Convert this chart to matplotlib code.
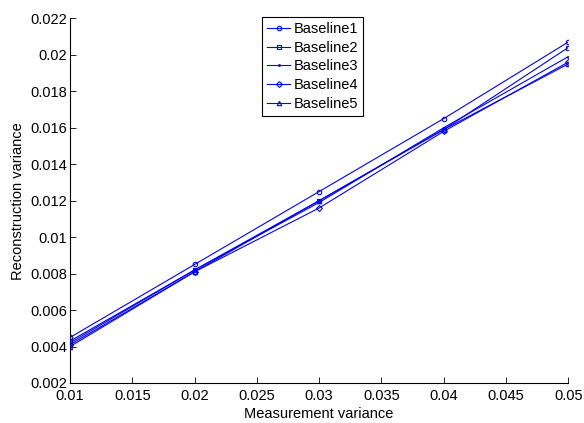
import matplotlib
matplotlib.use("Agg")
import matplotlib.pyplot as plt

plt.rcParams['font.family'] = ['Liberation Sans', 'DejaVu Sans']
plt.rcParams['font.size'] = 10

# measurement variance on the x axis
meas_var = [0.01, 0.02, 0.03, 0.04, 0.05]

# reconstruction variance
baseline1 = [0.0045, 0.0085, 0.0125, 0.0165, 0.0207]
baseline2 = [0.0043, 0.0082, 0.0120, 0.0159, 0.0204]
baseline3 = [0.0042, 0.0082, 0.0119, 0.0160, 0.0199]
baseline4 = [0.0041, 0.0081, 0.0116, 0.0158, 0.0196]
baseline5 = [0.0040, 0.0081, 0.0120, 0.0159, 0.0195]

series = [baseline1, baseline2, baseline3, baseline4, baseline5]
labels = ["Baseline1", "Baseline2", "Baseline3", "Baseline4", "Baseline5"]
markers = ["o", "s", ".", "D", "^"]
sizes = [3.2, 3.2, 2.5, 3, 3.2]

fig = plt.figure(figsize=(5.84, 4.23), dpi=100)
ax = fig.add_axes([0.12, 0.0946, 0.853, 0.862])

for vals, lab, mk, ms in zip(series, labels, markers, sizes):
    ax.plot(meas_var, vals, color="blue", linewidth=0.8, marker=mk,
            markersize=ms, markerfacecolor="none", markeredgewidth=0.8,
            label=lab)

ax.set_xlim(0.01, 0.05)
ax.set_ylim(0.002, 0.022)
ax.set_xticks([0.01, 0.015, 0.02, 0.025, 0.03, 0.035, 0.04, 0.045, 0.05])
ax.set_xticklabels(["0.01", "0.015", "0.02", "0.025", "0.03", "0.035",
                    "0.04", "0.045", "0.05"])
ax.set_yticks([0.002, 0.004, 0.006, 0.008, 0.01, 0.012, 0.014, 0.016,
               0.018, 0.02, 0.022])
ax.set_yticklabels(["0.002", "0.004", "0.006", "0.008", "0.01", "0.012",
                    "0.014", "0.016", "0.018", "0.02", "0.022"])
ax.tick_params(direction="in", length=4, width=0.6, pad=2, labelsize=10.5)
ax.tick_params(axis="x", pad=4)
ax.spines["top"].set_visible(False)
ax.spines["right"].set_visible(False)
ax.spines["left"].set_linewidth(0.8)
ax.spines["bottom"].set_linewidth(0.8)

ax.set_xlabel("Measurement variance", labelpad=3, fontsize=10.5)
ax.set_ylabel("Reconstruction variance", labelpad=4, fontsize=10.5)

leg = ax.legend(loc="upper left", bbox_to_anchor=(262 / 584, 1 - 17 / 423),
                bbox_transform=fig.transFigure, fancybox=False,
                edgecolor="black", framealpha=1, handlelength=1.6,
                handletextpad=0.2, borderpad=0.35, labelspacing=0.32,
                borderaxespad=0, fontsize=10.5)
leg.get_frame().set_linewidth(0.8)

fig.savefig("out.png", dpi=100)
